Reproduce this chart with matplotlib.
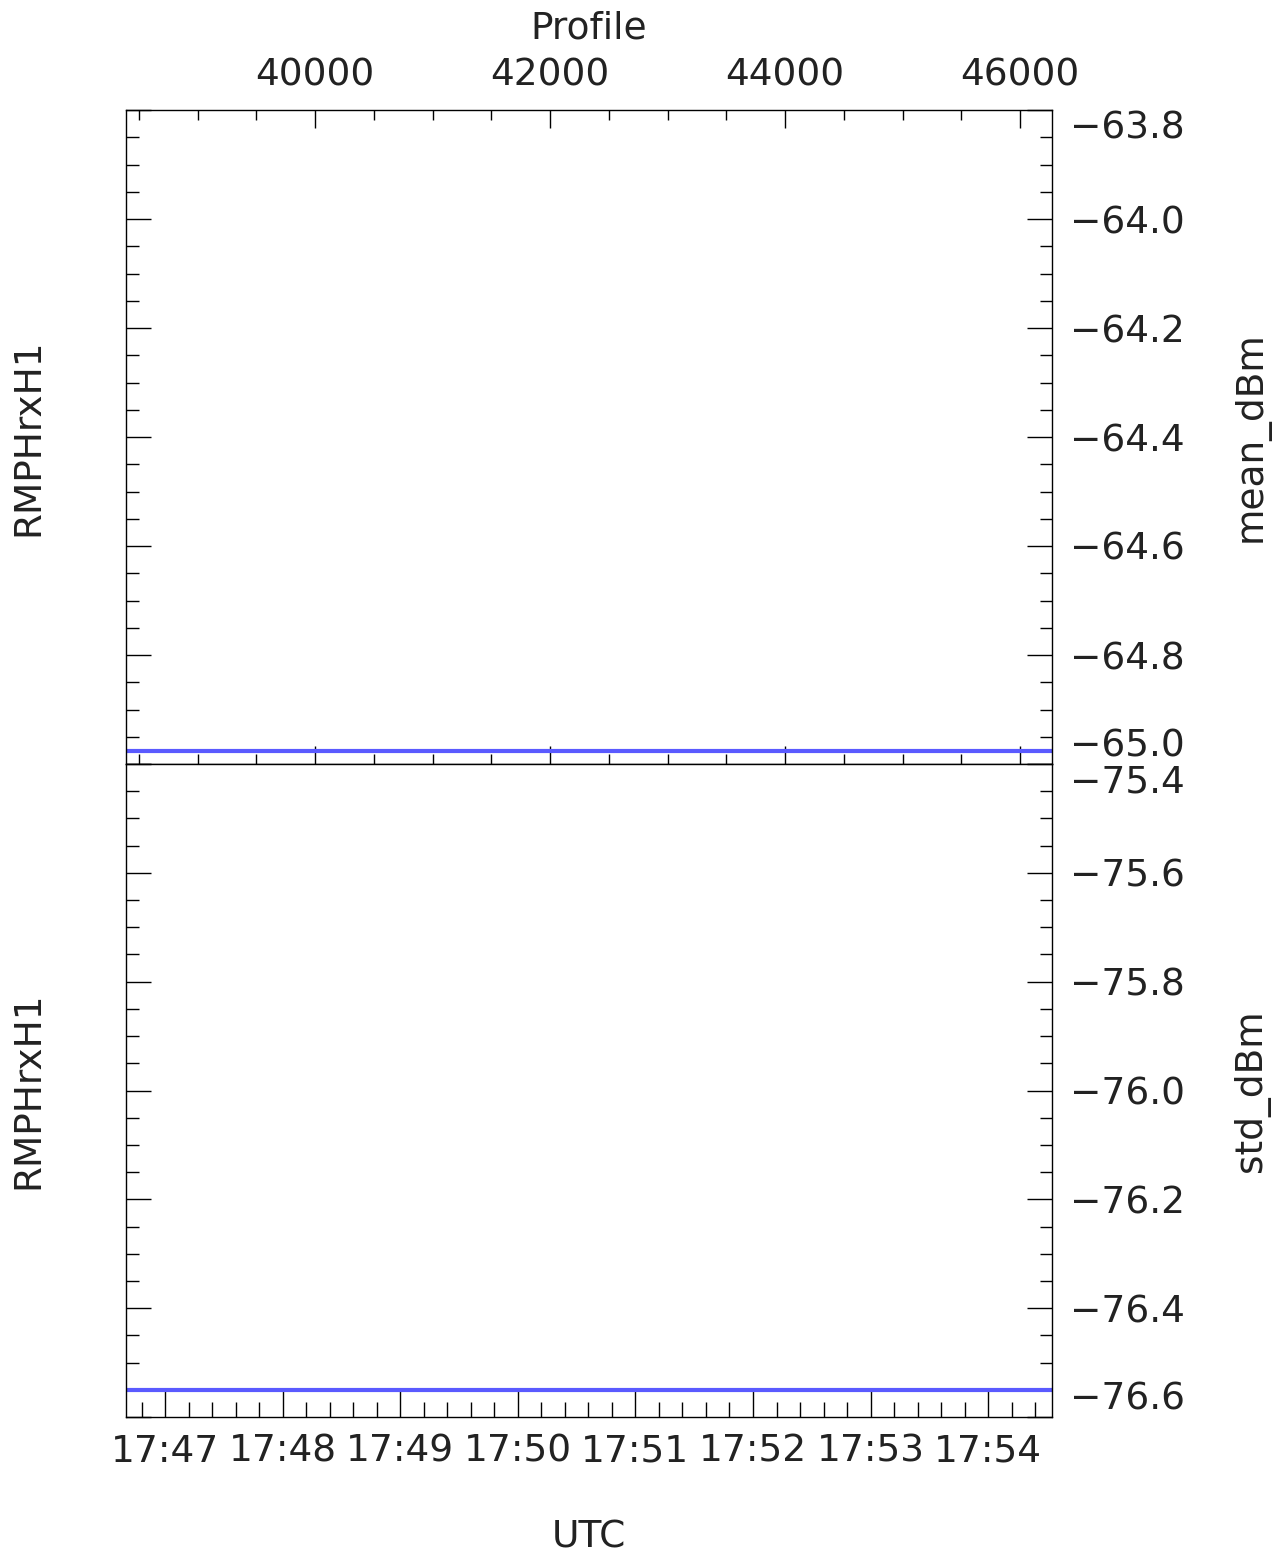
import datetime as dt
import matplotlib
matplotlib.use('Agg')
from matplotlib import pyplot as plt
import matplotlib.dates as mdates
import matplotlib.ticker as mticker

plt.rcParams['font.family'] = ['DejaVu Sans']

# data
utc = [dt.datetime(2020, 1, 1, 17, 46, 40), dt.datetime(2020, 1, 1, 17, 54, 32, 600000)]
profile = [38391, 46272]
mean_dbm = [-64.976, -64.976]
std_dbm = [-76.55, -76.55]

mean_ticks = [-65.0, -64.8, -64.6, -64.4, -64.2, -64.0, -63.8]
std_ticks = [-76.6, -76.4, -76.2, -76.0, -75.8, -75.6, -75.4]

W, H = 1282, 1559
fig = plt.figure(figsize=(W / 100, H / 100), dpi=100)

left, right = 126, 1052
ax1 = fig.add_axes([left / W, 1 - 764 / H, (right - left) / W, 654 / H])
ax2 = fig.add_axes([left / W, 1 - 1417 / H, (right - left) / W, 653 / H])

line_col = '#5a5aff'
txt_col = '#222222'
fs = 27

# top panel: profile on x
ax1.plot(profile, mean_dbm, color=line_col, lw=3)
ax1.set_xlim(profile[0], profile[1])
ax1.set_ylim(mean_ticks[0], mean_ticks[-1])
ax1.xaxis.set_major_locator(mticker.MultipleLocator(2000))
ax1.xaxis.set_minor_locator(mticker.MultipleLocator(500))
ax1.xaxis.set_major_formatter(mticker.FormatStrFormatter('%d'))
ax1.tick_params(axis='x', which='both', direction='in', top=True, bottom=True,
                labeltop=True, labelbottom=False, labelsize=fs, pad=12,
                labelcolor=txt_col)
ax1.tick_params(axis='x', which='major', length=13, width=1)
ax1.tick_params(axis='x', which='minor', length=7, width=1)
ax1.xaxis.set_label_position('top')
ax1.set_xlabel('Profile', fontsize=fs, color=txt_col, va='center')
ax1.xaxis.set_label_coords(0.5, 1.125)

# bottom panel: UTC on x
ax2.plot(utc, std_dbm, color=line_col, lw=3)
ax2.set_xlim(utc[0], utc[1])
ax2.set_ylim(std_ticks[0], std_ticks[-1])
ax2.xaxis.set_major_locator(mdates.MinuteLocator())
ax2.xaxis.set_minor_locator(mdates.SecondLocator(bysecond=[12, 24, 36, 48]))
ax2.xaxis.set_major_formatter(mdates.DateFormatter('%H:%M'))
ax2.tick_params(axis='x', which='both', direction='in', top=False, bottom=True,
                labelsize=fs, pad=12, labelcolor=txt_col)
ax2.tick_params(axis='x', which='major', length=20, width=1)
ax2.tick_params(axis='x', which='minor', length=11, width=1)
ax2.set_xlabel('UTC', fontsize=fs, color=txt_col, va='center')
ax2.xaxis.set_label_coords(0.5, -0.184)

for ax, ticks, name in [(ax1, mean_ticks, 'mean_dBm'), (ax2, std_ticks, 'std_dBm')]:
    ax.yaxis.set_major_locator(mticker.FixedLocator(ticks))
    ax.yaxis.set_minor_locator(mticker.MultipleLocator(0.05))
    ax.yaxis.set_major_formatter(mticker.FuncFormatter(lambda v, p: '\u2212%.1f' % abs(v)))
    ax.tick_params(axis='y', which='both', direction='in', left=True, right=True,
                   labelleft=False, labelright=True, labelsize=fs, pad=13,
                   labelcolor=txt_col)
    ax.tick_params(axis='y', which='major', length=18, width=1)
    ax.tick_params(axis='y', which='minor', length=9, width=1)
    labs = ax.get_yticklabels()
    labs[0].set_va('bottom')
    labs[-1].set_va('top')
    for s in ax.spines.values():
        s.set_linewidth(1)
    ax.text(1.215, 0.5, name, transform=ax.transAxes, rotation=90,
            ha='center', va='center', fontsize=fs, color=txt_col)
    ax.text(-0.105, 0.5, 'RMPHrxH1', transform=ax.transAxes, rotation=90,
            ha='center', va='center', fontsize=fs, color=txt_col)

fig.savefig('out.png', dpi=100)
